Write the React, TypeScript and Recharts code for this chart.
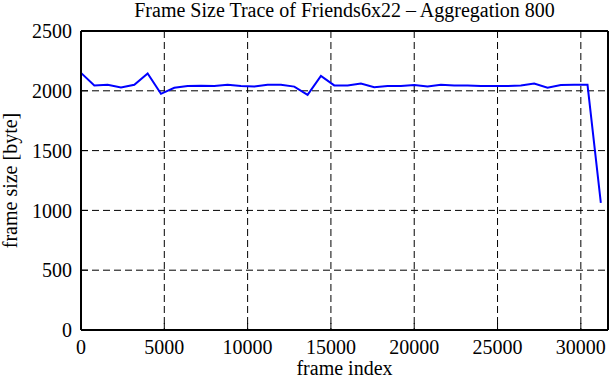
import { LineChart, Line, XAxis, YAxis, CartesianGrid } from "recharts";

const frameIndex = [
  0, 800, 1600, 2400, 3200, 4000, 4800, 5600, 6400, 7200,
  8000, 8800, 9600, 10400, 11200, 12000, 12800, 13600, 14400, 15200,
  16000, 16800, 17600, 18400, 19200, 20000, 20800, 21600, 22400, 23200,
  24000, 24800, 25600, 26400, 27200, 28000, 28800, 29600, 30400, 31200,
];

const frameSize = [
  2150, 2045, 2050, 2028, 2050, 2145, 1975, 2025, 2040, 2042,
  2040, 2050, 2040, 2035, 2050, 2050, 2035, 1966, 2125, 2045,
  2045, 2060, 2030, 2040, 2040, 2048, 2035, 2050, 2045, 2045,
  2040, 2040, 2040, 2045, 2060, 2025, 2048, 2050, 2050, 1062,
];

const xTicks = [0, 5000, 10000, 15000, 20000, 25000, 30000];
const yTicks = [0, 500, 1000, 1500, 2000, 2500];
const xMax = 31630;
const yMax = 2500;

const title = "Frame Size Trace of Friends6x22 \u2013 Aggregation 800";

const FONT = "'Liberation Serif', 'Times New Roman', serif";
const tickStyle = { fill: "#000", fontSize: 20, fontFamily: FONT };

const rows = frameIndex.map((f, i) => ({ frame: f, size: frameSize[i] }));

function YLabel({ viewBox }: any) {
  const cy = viewBox ? viewBox.y + viewBox.height / 2 : 180;
  const x = 17;
  return (
    <text
      x={x}
      y={cy}
      transform={`rotate(-90 ${x} ${cy})`}
      textAnchor="middle"
      fill="#000"
      fontSize={20}
      fontFamily={FONT}
    >
      frame size [byte]
    </text>
  );
}

export default function App() {
  return (
    <div style={{ position: "absolute", left: 0, top: 0, background: "#fff" }}>
      <LineChart width={611} height={380} data={rows} margin={{ top: 0, right: 0, bottom: 0, left: 0 }}>
        <CartesianGrid stroke="#000" strokeWidth={1} strokeDasharray="7 4" horizontalValues={yTicks} verticalValues={xTicks} />
        <XAxis
          dataKey="frame"
          type="number"
          domain={[0, xMax]}
          ticks={xTicks}
          height={50}
          tickSize={-7}
          tickMargin={17}
          tickLine={{ stroke: "#000", strokeWidth: 1 }}
          axisLine={{ stroke: "#000", strokeWidth: 2 }}
          tick={tickStyle}
          label={{ value: "frame index", position: "insideBottom", offset: 5, fill: "#000", fontSize: 20, fontFamily: FONT }}
        />
        <XAxis
          xAxisId="top"
          orientation="top"
          dataKey="frame"
          type="number"
          domain={[0, xMax]}
          ticks={xTicks}
          height={31}
          tickSize={-7}
          tick={false}
          tickLine={{ stroke: "#000", strokeWidth: 1 }}
          axisLine={{ stroke: "#000", strokeWidth: 2 }}
          label={{ value: title, position: "insideTop", offset: 3, fill: "#000", fontSize: 20, fontFamily: FONT }}
        />
        <YAxis
          type="number"
          domain={[0, yMax]}
          ticks={yTicks}
          width={81}
          tickSize={-7}
          tickMargin={16}
          tickLine={{ stroke: "#000", strokeWidth: 1 }}
          axisLine={{ stroke: "#000", strokeWidth: 2 }}
          tick={tickStyle}
          label={<YLabel />}
        />
        <YAxis
          yAxisId="right"
          orientation="right"
          type="number"
          domain={[0, yMax]}
          ticks={yTicks}
          width={3}
          tickSize={-7}
          tick={false}
          tickLine={{ stroke: "#000", strokeWidth: 1 }}
          axisLine={{ stroke: "#000", strokeWidth: 2 }}
        />
        <Line
          type="linear"
          dataKey="size"
          stroke="#0000ff"
          strokeWidth={2}
          dot={false}
          isAnimationActive={false}
        />
      </LineChart>
    </div>
  );
}
